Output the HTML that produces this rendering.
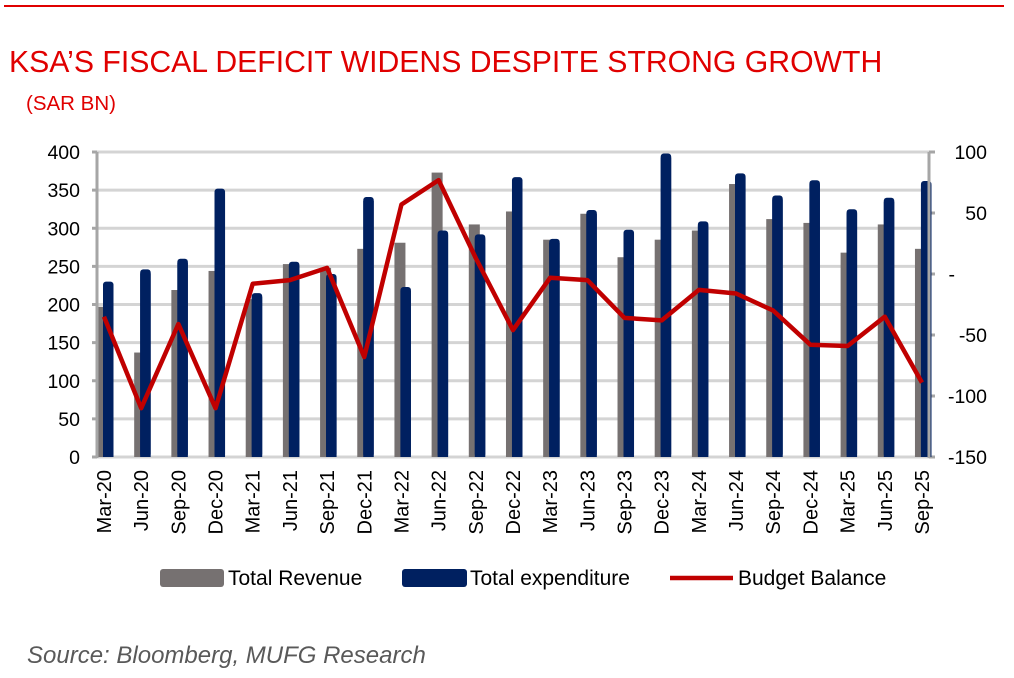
<!DOCTYPE html>
<html><head><meta charset="utf-8"><style>
body{margin:0;background:#fff;width:1014px;height:673px;overflow:hidden;font-family:"Liberation Sans",Arial,sans-serif}
</style></head><body>
<svg width="1014" height="673" viewBox="0 0 1014 673" xmlns="http://www.w3.org/2000/svg" font-family="Liberation Sans, Arial, sans-serif">
<rect x="4" y="5" width="1000" height="2" fill="#e00000"/>
<text x="9" y="72" font-size="30.2" fill="#e00000">KSA’S FISCAL DEFICIT WIDENS DESPITE STRONG GROWTH</text>
<text x="26" y="110" font-size="20.5" fill="#e00000">(SAR BN)</text>
<g id="grid" stroke="#d4d4d4" stroke-width="3"></g>
<g id="bars"></g>
<line x1="97" y1="152" x2="97" y2="458" stroke="#a6a6a6" stroke-width="3"/>
<line x1="929" y1="152" x2="929" y2="458" stroke="#a6a6a6" stroke-width="3"/>
<g id="ticks" fill="#000" font-size="19.5"></g>
<polyline id="line" fill="none" stroke="#c00000" stroke-width="4.5" stroke-linejoin="round"/>
<g id="xl" font-size="20" fill="#000"></g>
<rect x="160" y="569" width="64" height="18" rx="3" fill="#767171"/>
<text x="228" y="585" font-size="21">Total Revenue</text>
<rect x="402" y="569" width="65" height="18" rx="3" fill="#002060"/>
<text x="470" y="585" font-size="21">Total expenditure</text>
<line x1="670" y1="578" x2="733" y2="578" stroke="#c00000" stroke-width="4.5"/>
<text x="738" y="585" font-size="21">Budget Balance</text>
<text x="27" y="663" font-size="24" font-style="italic" fill="#595959">Source: Bloomberg, MUFG Research</text>
</svg>
<script>
const ns="http://www.w3.org/2000/svg";
function el(p,t,a,txt){const e=document.createElementNS(ns,t);for(const k in a)e.setAttribute(k,a[k]);if(txt!=null)e.textContent=txt;document.getElementById(p).appendChild(e);return e;}
const cats=["Mar-20","Jun-20","Sep-20","Dec-20","Mar-21","Jun-21","Sep-21","Dec-21","Mar-22","Jun-22","Sep-22","Dec-22","Mar-23","Jun-23","Sep-23","Dec-23","Mar-24","Jun-24","Sep-24","Dec-24","Mar-25","Jun-25","Sep-25"];
const rev=[197,137,219,244,207,253,248,273,281,373,305,322,285,319,262,285,297,358,312,307,268,305,273];
const exp=[230,246,260,352,215,256,240,341,223,297,292,367,286,324,298,398,309,372,343,363,325,340,362];
const bal=[-35,-110,-41,-110,-8,-5,5,-68,57,77,13,-46,-3,-5,-36,-38,-13,-16,-30,-58,-59,-35,-89];
const yl=v=>457-v*0.7625, yr=v=>274-v*1.22;
for(let v=0;v<=400;v+=50){const y=yl(v);el("grid","line",{x1:97,x2:929,y1:y,y2:y});
el("ticks","text",{x:80,y:y+7,"text-anchor":"end"},String(v));el("grid","line",{x1:92,x2:97,y1:y,y2:y,stroke:"#a6a6a6"});}
[100,50,0,-50,-100,-150].forEach(v=>{const y=yr(v);el("ticks","text",{x:v===0?955:987,y:y+7,"text-anchor":"end"},v===0?"-":String(v));el("grid","line",{x1:929,x2:935,y1:y,y2:y,stroke:"#a6a6a6"});});
const pts=[];
cats.forEach((c,i)=>{const x=103+37.18*i;
el("bars","rect",{x:x-6,y:yl(rev[i]),width:11,height:457-yl(rev[i]),fill:"#767171"});
el("bars","rect",{x:x,y:yl(exp[i]),width:10.5,height:457-yl(exp[i]),rx:3,fill:"#002060"});
el("bars","rect",{x:x,y:yl(exp[i])+4,width:10.5,height:457-yl(exp[i])-4,fill:"#002060"});
pts.push((x+1)+","+yr(bal[i]).toFixed(1));
el("xl","text",{x:0,y:0,"text-anchor":"end",transform:`translate(${x+8},470) rotate(-90)`},c);
});
document.getElementById("line").setAttribute("points",pts.join(" "));
</script>
</body></html>
